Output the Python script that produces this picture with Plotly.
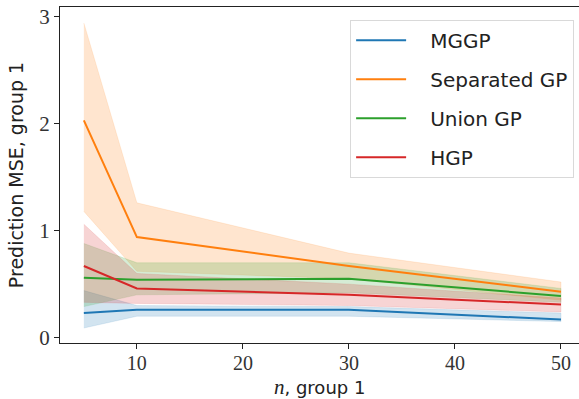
import plotly.graph_objects as go

# sample sizes for group 1
n_vals = [5, 10, 30, 50]

# mean prediction MSE and band limits per method
mggp_mean = [0.23, 0.26, 0.26, 0.17]
mggp_lo = [0.09, 0.20, 0.20, 0.15]
mggp_hi = [0.44, 0.30, 0.29, 0.23]

sep_mean = [2.03, 0.94, 0.67, 0.43]
sep_lo = [1.18, 0.62, 0.55, 0.35]
sep_hi = [2.94, 1.26, 0.79, 0.52]

union_mean = [0.56, 0.54, 0.55, 0.39]
union_lo = [0.29, 0.40, 0.42, 0.33]
union_hi = [0.88, 0.70, 0.70, 0.46]

hgp_mean = [0.67, 0.46, 0.40, 0.31]
hgp_lo = [0.33, 0.32, 0.30, 0.24]
hgp_hi = [1.06, 0.60, 0.50, 0.37]

names = ["MGGP", "Separated GP", "Union GP", "HGP"]
colors = ["#1f77b4", "#ff7f0e", "#2ca02c", "#d62728"]
fills = ["rgba(31,119,180,0.2)", "rgba(255,127,14,0.2)",
         "rgba(44,160,44,0.2)", "rgba(214,39,40,0.2)"]
means = [mggp_mean, sep_mean, union_mean, hgp_mean]
los = [mggp_lo, sep_lo, union_lo, hgp_lo]
his = [mggp_hi, sep_hi, union_hi, hgp_hi]

fig = go.Figure()

# shaded bands
for lo, hi, fc in zip(los, his, fills):
    fig.add_trace(go.Scatter(
        x=n_vals + n_vals[::-1], y=hi + lo[::-1],
        fill="toself", fillcolor=fc, mode="lines",
        line=dict(width=0.6, color=fc), showlegend=False, hoverinfo="skip"))

# mean lines, each in its own legend group so the entries are spaced out
pad = "\u00a0\u00a0\u00a0"
for name, m, c in zip(names, means, colors):
    fig.add_trace(go.Scatter(x=n_vals, y=m, mode="lines", name=pad + name,
                             legendgroup=name,
                             line=dict(color=c, width=2)))

serif = "Liberation Serif"
sans = "DejaVu Sans"

fig.update_layout(
    width=579, height=399,
    margin=dict(l=60, r=0, t=7, b=56),
    plot_bgcolor="white", paper_bgcolor="white",
    showlegend=True,
    legend=dict(x=0.559, y=0.962, xanchor="left", yanchor="top",
                bgcolor="white", bordercolor="#d9d9d9", borderwidth=1,
                font=dict(family=sans, size=20, color="#222"),
                tracegroupgap=10, itemwidth=50),
    xaxis=dict(range=[2.75, 51.7], tickvals=[10, 20, 30, 40, 50],
               showgrid=False, zeroline=False, showline=True,
               linecolor="#222", linewidth=1.2, mirror=True,
               ticks="outside", ticklen=5, tickcolor="#222",
               ticklabelstandoff=-3,
               tickfont=dict(family=serif, size=20, color="#333")),
    yaxis=dict(range=[-0.05, 3.09], tickvals=[0, 1, 2, 3],
               showgrid=False, zeroline=False, showline=True,
               linecolor="#222", linewidth=1.2,
               ticks="outside", ticklen=5, tickcolor="#222",
               tickfont=dict(family=serif, size=21, color="#333"),
               title=dict(text="Prediction MSE, group 1",
                          font=dict(family=sans, size=19, color="#222"),
                          standoff=10)),
)

# x-axis title placed just under the tick labels
fig.add_annotation(
    text="<span style=\"font-family:'Liberation Serif';font-size:21px\"><i>n</i></span>, group 1",
    xref="paper", yref="paper", x=0.5, y=-0.13,
    xanchor="center", yanchor="middle", showarrow=False,
    font=dict(family=sans, size=18, color="#222"))

fig.write_html("out.html")
